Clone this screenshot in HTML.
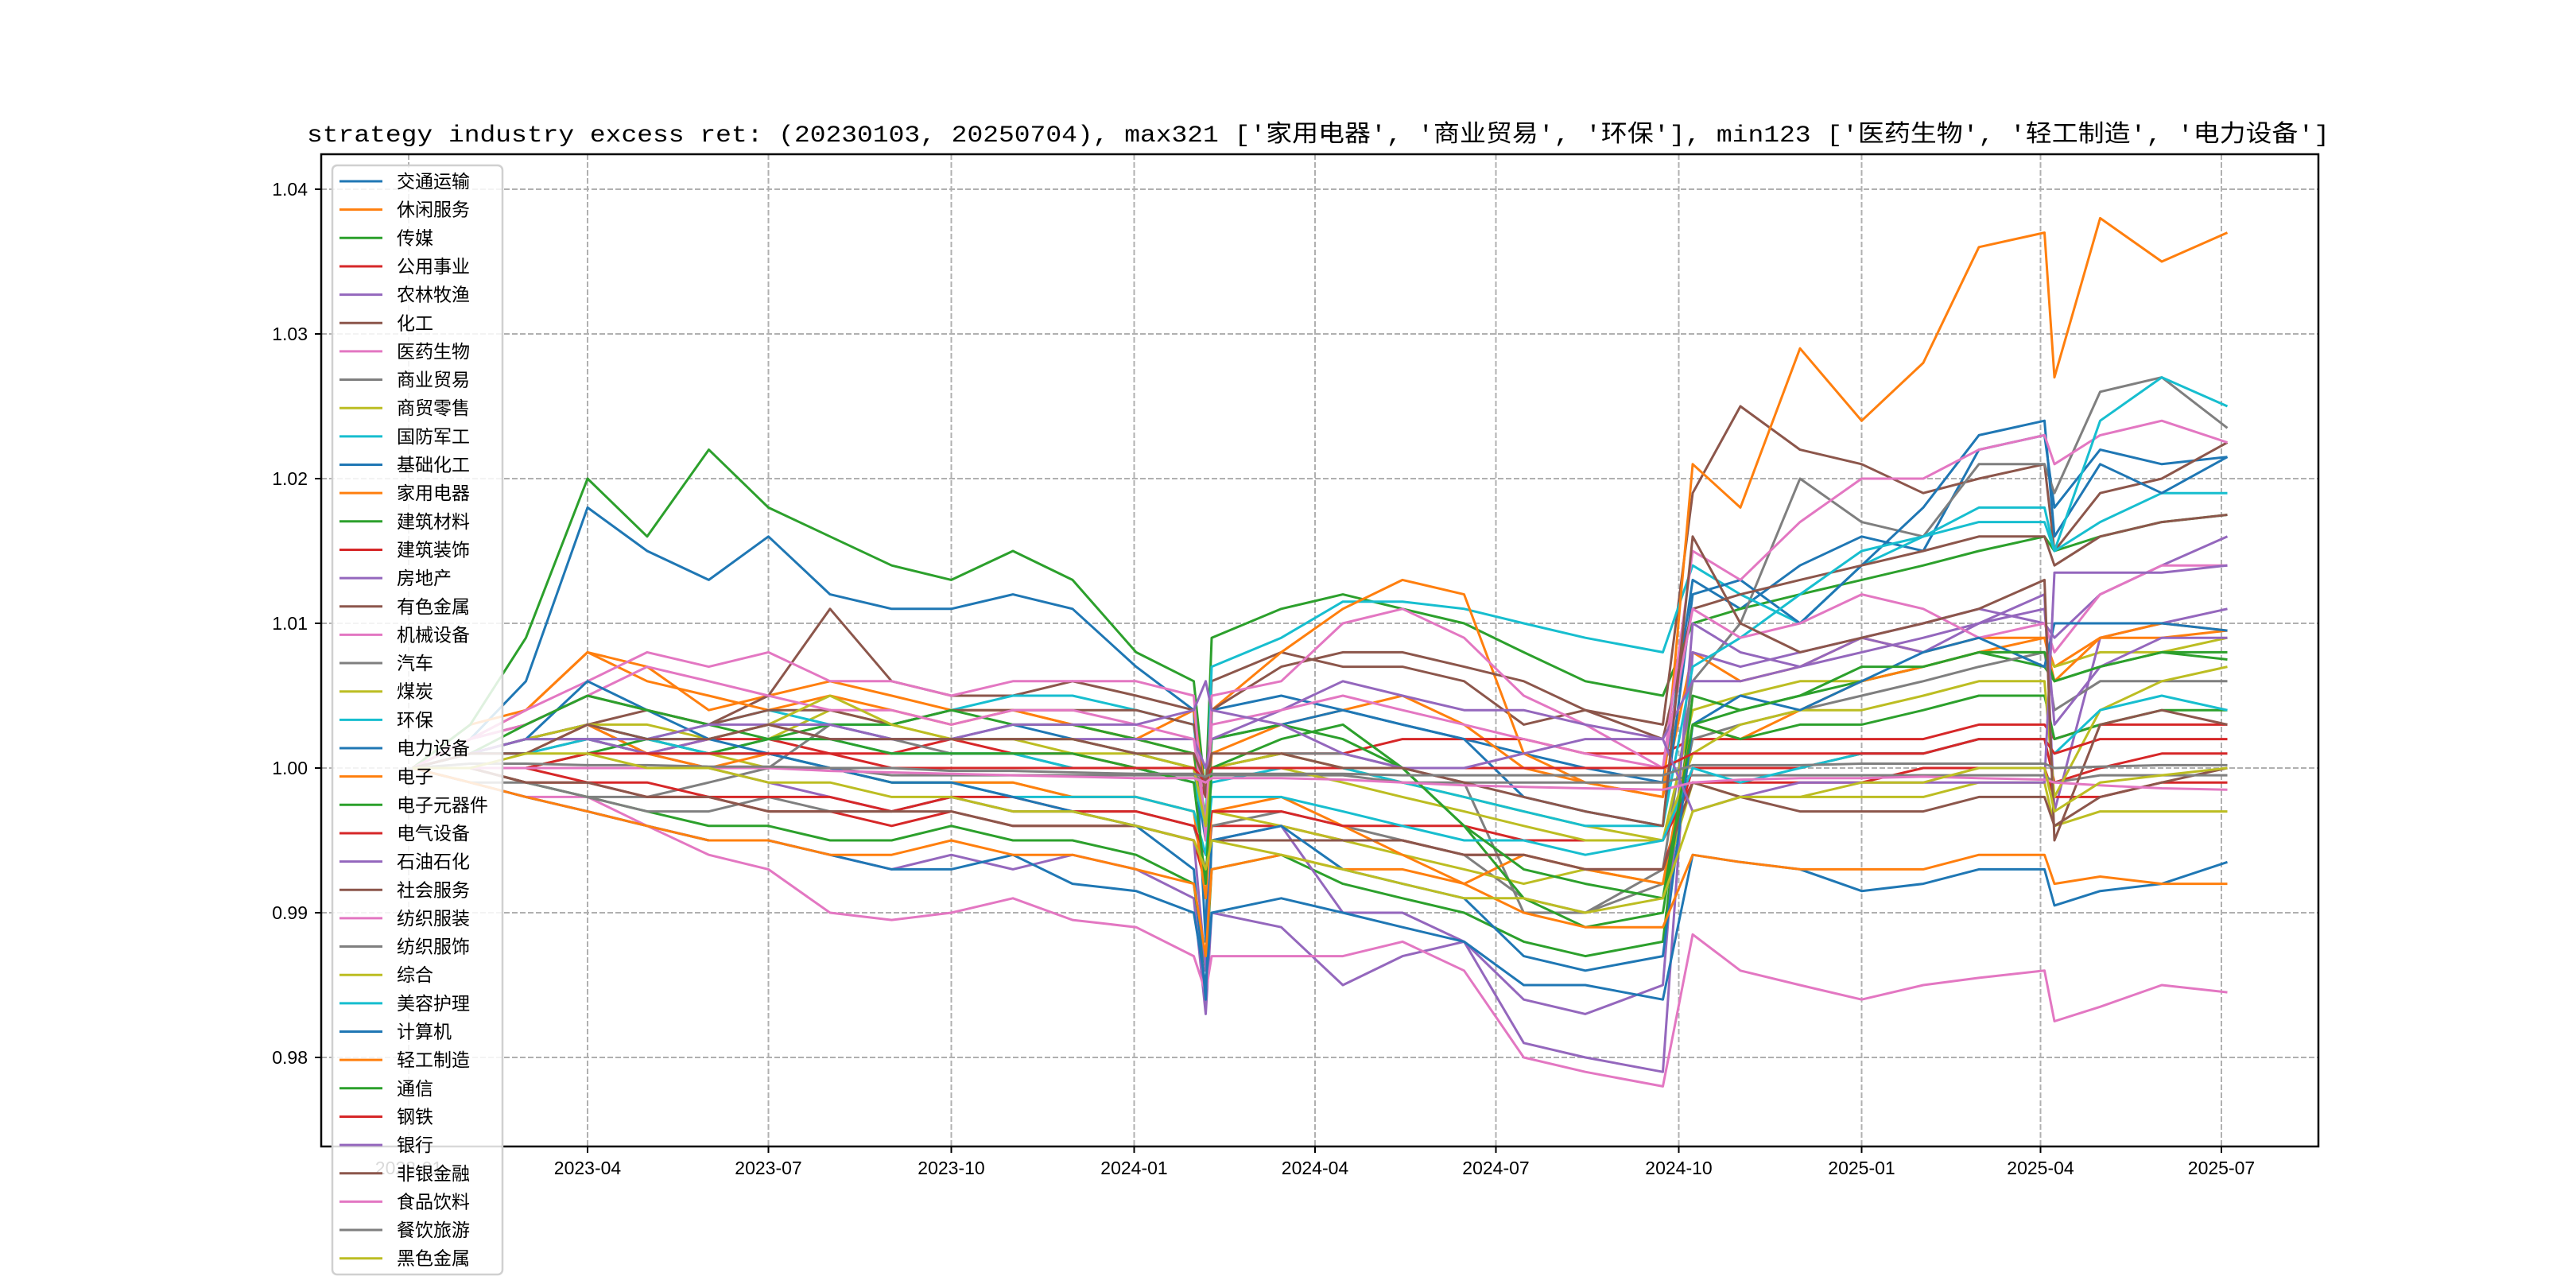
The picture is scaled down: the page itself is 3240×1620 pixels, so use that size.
<!DOCTYPE html>
<html><head><meta charset="utf-8"><style>
html,body{margin:0;padding:0;background:#fff;}
svg{display:block;}
text{font-family:"Liberation Sans","Noto Sans CJK SC",sans-serif;}
</style></head><body>
<svg id="chart" width="3240" height="1620" viewBox="0 0 3240 1620" xmlns="http://www.w3.org/2000/svg">
<rect width="3240" height="1620" fill="#fff"/>
<text x="386" y="178" font-size="30" textLength="2544" lengthAdjust="spacingAndGlyphs" style="font-family:'Liberation Mono','Noto Sans CJK SC',monospace">strategy industry excess ret: (20230103, 20250704), max321 ['家用电器', '商业贸易', '环保'], min123 ['医药生物', '轻工制造', '电力设备']</text>
<g id="grid"></g>
<g id="series"></g>
<rect x="404" y="194" width="2512" height="1248" fill="none" stroke="#000" stroke-width="2.5"/>
<g id="axes"></g>
<g id="legend"></g>
</svg>
<script>
const dates = ['2023-01-03','2023-02-01','2023-03-01','2023-04-01','2023-05-01','2023-06-01','2023-07-01','2023-08-01','2023-09-01','2023-10-01','2023-11-01','2023-12-01','2024-01-02','2024-01-31','2024-02-06','2024-02-09','2024-03-15','2024-04-15','2024-05-15','2024-06-15','2024-07-15','2024-08-15','2024-09-23','2024-10-08','2024-11-01','2024-12-01','2025-01-01','2025-02-01','2025-03-01','2025-04-03','2025-04-08','2025-05-01','2025-06-01','2025-07-04'];
const names = ['交通运输','休闲服务','传媒','公用事业','农林牧渔','化工','医药生物','商业贸易','商贸零售','国防军工','基础化工','家用电器','建筑材料','建筑装饰','房地产','有色金属','机械设备','汽车','煤炭','环保','电力设备','电子','电子元器件','电气设备','石油石化','社会服务','纺织服装','纺织服饰','综合','美容护理','计算机','轻工制造','通信','钢铁','银行','非银金融','食品饮料','餐饮旅游','黑色金属'];
const yTicks = [0.98,0.99,1.00,1.01,1.02,1.03,1.04];
const yTickLabels = ['0.98','0.99','1.00','1.01','1.02','1.03','1.04'];
const xTicks = ['2023-01-01','2023-04-01','2023-07-01','2023-10-01','2024-01-01','2024-04-01','2024-07-01','2024-10-01','2025-01-01','2025-04-01','2025-07-01'];
const xTickLabels = ['2023-01','2023-04','2023-07','2023-10','2024-01','2024-04','2024-07','2024-10','2025-01','2025-04','2025-07'];
const s0 = [1.000,1.002,1.006,1.018,1.015,1.013,1.016,1.012,1.011,1.011,1.012,1.011,1.007,1.004,0.988,1.004,1.005,1.004,1.003,1.002,1.001,1.000,0.999,1.013,1.011,1.014,1.016,1.015,1.022,1.023,1.018,1.022,1.021,1.0215];
const s1 = [1.000,1.003,1.004,1.008,1.007,1.004,1.005,1.006,1.005,1.004,1.004,1.003,1.002,1.001,0.995,1.001,1.003,1.004,1.005,1.003,1.000,0.999,0.998,1.008,1.006,1.007,1.009,1.008,1.009,1.009,1.007,1.009,1.009,1.0095];
const s2 = [1.000,1.003,1.009,1.020,1.016,1.022,1.018,1.016,1.014,1.013,1.015,1.013,1.008,1.006,0.998,1.009,1.011,1.012,1.011,1.010,1.008,1.006,1.005,1.010,1.011,1.012,1.013,1.014,1.015,1.016,1.015,1.016,1.017,1.0175];
const s3 = [1.000,1.001,1.002,1.002,1.001,1.002,1.002,1.001,1.001,1.002,1.001,1.001,1.000,1.000,0.998,1.000,1.001,1.001,1.002,1.002,1.002,1.001,1.001,1.002,1.002,1.002,1.002,1.002,1.003,1.003,1.002,1.003,1.003,1.003];
const s4 = [1.000,0.999,0.998,0.997,0.996,0.995,0.995,0.994,0.993,0.994,0.993,0.994,0.993,0.991,0.983,0.990,0.989,0.985,0.987,0.988,0.981,0.980,0.979,1.008,1.007,1.008,1.009,1.010,1.011,1.010,1.009,1.012,1.014,1.016];
const s5 = [1.000,1.002,1.003,1.005,1.004,1.003,1.005,1.011,1.006,1.005,1.005,1.006,1.005,1.004,0.998,1.006,1.008,1.007,1.007,1.006,1.003,1.004,1.003,1.019,1.025,1.022,1.021,1.019,1.020,1.021,1.015,1.019,1.020,1.0225];
const s6 = [1.000,0.999,0.998,0.998,0.996,0.994,0.993,0.990,0.9895,0.990,0.991,0.9895,0.989,0.987,0.9845,0.987,0.987,0.987,0.988,0.986,0.980,0.979,0.978,0.9885,0.986,0.985,0.984,0.985,0.9855,0.986,0.9825,0.9835,0.985,0.9845];
const s7 = [1.000,1.000,0.999,0.998,0.998,0.999,1.000,1.003,1.002,1.001,1.001,1.000,1.000,0.999,0.996,1.000,1.001,1.001,1.000,0.999,0.990,0.990,0.993,1.006,1.010,1.020,1.017,1.016,1.021,1.021,1.019,1.026,1.027,1.0235];
const s8 = [1.000,1.001,1.002,1.003,1.002,1.001,1.002,1.004,1.003,1.002,1.002,1.001,1.001,1.000,0.997,1.000,1.001,1.000,0.999,0.998,0.997,0.996,0.995,1.004,1.005,1.006,1.006,1.007,1.008,1.008,1.007,1.008,1.008,1.009];
const s9 = [1.000,1.001,1.002,1.003,1.002,1.003,1.004,1.003,1.003,1.004,1.005,1.005,1.004,1.003,0.996,1.007,1.009,1.0115,1.0115,1.011,1.010,1.009,1.008,1.014,1.012,1.010,1.014,1.016,1.018,1.018,1.015,1.017,1.019,1.019];
const s10 = [1.000,1.001,1.002,1.003,1.002,1.002,1.003,1.003,1.002,1.002,1.003,1.002,1.001,1.000,0.995,1.002,1.003,1.004,1.003,1.002,0.998,0.997,0.996,1.012,1.013,1.010,1.014,1.018,1.023,1.024,1.016,1.021,1.019,1.0215];
const s11 = [1.000,1.002,1.004,1.008,1.006,1.005,1.004,1.005,1.004,1.003,1.004,1.003,1.002,1.004,0.998,1.004,1.008,1.011,1.013,1.012,1.001,0.999,0.998,1.021,1.018,1.029,1.024,1.028,1.036,1.037,1.027,1.038,1.035,1.037];
const s12 = [1.000,1.000,0.999,0.998,0.997,0.996,0.996,0.995,0.995,0.996,0.995,0.995,0.994,0.992,0.986,0.993,0.994,0.992,0.991,0.990,0.988,0.987,0.988,1.005,1.004,1.005,1.006,1.007,1.008,1.007,1.006,1.007,1.008,1.008];
const s13 = [1.000,1.000,0.999,0.999,0.998,0.998,0.997,0.997,0.996,0.997,0.996,0.996,0.996,0.995,0.992,0.996,0.996,0.995,0.995,0.994,0.994,0.993,0.993,1.000,1.000,1.000,1.001,1.001,1.002,1.002,0.999,1.000,1.001,1.001];
const s14 = [1.000,1.001,1.002,1.003,1.001,1.000,0.999,0.998,0.997,0.998,0.997,0.997,0.996,0.995,0.986,0.995,0.996,0.990,0.990,0.988,0.984,0.983,0.985,1.010,1.008,1.007,1.009,1.008,1.010,1.012,0.997,1.009,1.010,1.011];
const s15 = [1.000,1.001,1.002,1.003,1.004,1.003,1.004,1.004,1.003,1.004,1.004,1.004,1.004,1.003,0.998,1.004,1.007,1.008,1.008,1.007,1.006,1.004,1.002,1.011,1.012,1.013,1.014,1.015,1.016,1.016,1.014,1.016,1.017,1.0175];
const s16 = [1.000,1.002,1.004,1.006,1.008,1.007,1.008,1.006,1.006,1.005,1.006,1.006,1.006,1.005,0.995,1.005,1.006,1.010,1.011,1.009,1.005,1.003,1.000,1.015,1.013,1.017,1.020,1.020,1.022,1.023,1.021,1.023,1.024,1.0225];
const s17 = [1.000,0.999,0.999,0.998,0.997,0.997,0.998,0.997,0.997,0.998,0.997,0.997,0.997,0.996,0.993,0.996,0.997,0.996,0.995,0.994,0.991,0.990,0.992,1.002,1.003,1.004,1.005,1.006,1.007,1.008,1.004,1.006,1.006,1.006];
const s18 = [1.000,1.001,1.001,1.002,1.001,1.001,1.000,1.000,0.999,0.999,0.999,0.998,0.998,0.997,0.994,0.997,0.996,0.995,0.994,0.993,0.992,0.993,0.992,0.999,0.998,0.998,0.998,0.998,0.999,0.999,0.996,0.997,0.997,0.997];
const s19 = [1.000,1.001,1.002,1.002,1.001,1.001,1.002,1.002,1.001,1.001,1.001,1.000,1.000,0.999,0.996,0.999,1.000,1.000,0.999,0.998,0.997,0.996,0.996,1.007,1.009,1.012,1.015,1.016,1.017,1.017,1.015,1.024,1.027,1.025];
const s20 = [1.000,0.999,0.998,0.997,0.996,0.995,0.995,0.994,0.993,0.993,0.994,0.992,0.9915,0.990,0.985,0.990,0.991,0.990,0.989,0.988,0.985,0.985,0.984,0.994,0.9935,0.993,0.9915,0.992,0.993,0.993,0.9905,0.9915,0.992,0.9935];
const s21 = [1.000,1.001,1.001,1.003,1.001,1.000,1.001,1.000,0.999,0.999,0.999,0.998,0.998,0.997,0.991,0.997,0.998,0.996,0.994,0.992,0.994,0.993,0.992,1.003,1.002,1.004,1.006,1.007,1.008,1.009,1.006,1.009,1.010,1.0095];
const s22 = [1.000,1.000,1.000,1.001,1.002,1.001,1.002,1.003,1.003,1.004,1.003,1.003,1.002,1.001,0.996,1.002,1.003,1.002,1.000,0.996,0.991,0.989,0.990,1.003,1.002,1.003,1.003,1.004,1.005,1.005,1.002,1.003,1.004,1.004];
const s23 = [1.000,1.000,1.000,0.999,0.999,0.998,0.998,0.998,0.997,0.998,0.998,0.997,0.997,0.996,0.994,0.997,0.997,0.996,0.996,0.996,0.995,0.995,0.995,0.999,0.999,0.999,0.999,1.000,1.000,1.000,0.998,0.998,0.999,0.999];
const s24 = [1.000,1.001,1.001,1.002,1.001,1.002,1.003,1.002,1.002,1.002,1.002,1.002,1.002,1.002,1.000,1.002,1.004,1.006,1.005,1.004,1.004,1.003,1.002,1.006,1.006,1.007,1.008,1.009,1.010,1.011,1.003,1.007,1.009,1.009];
const s25 = [1.000,1.000,0.999,0.999,0.998,0.998,0.997,0.997,0.997,0.997,0.996,0.996,0.996,0.995,0.993,0.995,0.995,0.995,0.995,0.994,0.994,0.993,0.993,0.999,0.998,0.997,0.997,0.997,0.998,0.998,0.996,0.998,0.999,1.000];
const s26 = [1.000,1.002,1.003,1.005,1.007,1.006,1.005,1.004,1.004,1.003,1.004,1.004,1.003,1.002,0.996,1.003,1.004,1.005,1.004,1.003,1.002,1.001,1.000,1.011,1.009,1.010,1.012,1.011,1.009,1.010,1.008,1.012,1.014,1.014];
const s27 = [1.000,1.000,1.000,1.000,1.000,1.000,1.000,1.000,0.9995,0.9995,0.9995,0.9995,0.9995,0.9995,0.999,0.9995,0.9995,0.9995,0.999,0.999,0.999,0.999,0.999,0.9995,0.9995,0.9995,0.9995,0.9995,0.9995,0.9995,0.999,0.9995,0.9995,0.9995];
const s28 = [1.000,1.001,1.002,1.003,1.003,1.002,1.003,1.005,1.003,1.002,1.002,1.002,1.001,1.000,0.996,1.000,1.000,0.999,0.998,0.997,0.996,0.995,0.995,1.001,1.003,1.004,1.004,1.005,1.006,1.006,0.998,1.004,1.006,1.007];
const s29 = [1.000,1.001,1.001,1.002,1.002,1.001,1.001,1.000,0.999,0.999,0.998,0.998,0.998,0.997,0.994,0.998,0.998,0.997,0.996,0.995,0.995,0.994,0.995,1.000,0.999,1.000,1.001,1.001,1.002,1.002,1.001,1.004,1.005,1.004];
const s30 = [1.000,1.001,1.002,1.006,1.004,1.002,1.001,1.000,0.999,0.999,0.998,0.997,0.996,0.993,0.984,0.995,0.996,0.993,0.992,0.991,0.987,0.986,0.987,1.003,1.005,1.004,1.006,1.008,1.009,1.007,1.010,1.010,1.010,1.0095];
const s31 = [1.000,0.999,0.998,0.997,0.996,0.995,0.995,0.994,0.994,0.995,0.994,0.994,0.993,0.992,0.987,0.993,0.994,0.993,0.993,0.992,0.990,0.989,0.989,0.994,0.9935,0.993,0.993,0.993,0.994,0.994,0.992,0.9925,0.992,0.992];
const s32 = [1.000,1.001,1.003,1.005,1.004,1.003,1.002,1.002,1.001,1.001,1.001,1.001,1.000,0.999,0.992,1.000,1.002,1.003,1.000,0.996,0.993,0.992,0.991,1.003,1.004,1.005,1.007,1.007,1.008,1.008,1.006,1.007,1.008,1.0075];
const s33 = [1.000,1.000,1.000,1.001,1.001,1.001,1.001,1.001,1.000,1.000,1.000,1.000,1.000,1.000,0.999,1.000,1.000,1.000,1.000,1.000,1.000,1.000,1.000,1.001,1.001,1.001,1.001,1.001,1.002,1.002,1.001,1.002,1.002,1.002];
const s34 = [1.000,1.001,1.002,1.002,1.002,1.003,1.003,1.003,1.002,1.002,1.003,1.003,1.003,1.004,1.006,1.004,1.003,1.001,1.000,1.000,1.001,1.002,1.002,0.997,0.998,0.999,0.999,0.999,0.999,0.999,1.0135,1.0135,1.0135,1.014];
const s35 = [1.000,1.001,1.001,1.003,1.002,1.002,1.003,1.002,1.002,1.002,1.002,1.002,1.001,1.001,0.999,1.001,1.001,1.000,1.000,0.999,0.998,0.997,0.996,1.016,1.010,1.008,1.009,1.010,1.011,1.013,0.995,1.003,1.004,1.003];
const s36 = [1.000,1.000,1.000,1.000,1.000,1.000,1.000,0.9998,0.9997,0.9996,0.9995,0.9994,0.9993,0.9993,0.999,0.9993,0.9993,0.9992,0.999,0.9988,0.9987,0.9986,0.9985,0.999,0.9992,0.9993,0.9993,0.9994,0.9993,0.9992,0.999,0.9988,0.9986,0.9985];
const s37 = [1.000,1.0003,1.0003,1.0002,1.0002,1.0001,1.0001,1.000,1.000,0.9998,0.9998,0.9997,0.9996,0.9996,0.9994,0.9996,0.9996,0.9996,0.9995,0.9995,0.9995,0.9995,0.9995,1.0002,1.0002,1.0002,1.0003,1.0003,1.0003,1.0003,1.000,1.0001,1.0002,1.0002];
const s38 = [1.000,1.000,1.001,1.001,1.000,1.000,0.999,0.999,0.998,0.998,0.997,0.997,0.996,0.995,0.993,0.995,0.994,0.993,0.992,0.991,0.991,0.990,0.991,0.997,0.998,0.998,0.999,0.999,1.000,1.000,0.997,0.999,0.9995,1.000];
const seriesValues = [s0,s1,s2,s3,s4,s5,s6,s7,s8,s9,s10,s11,s12,s13,s14,s15,s16,s17,s18,s19,s20,s21,s22,s23,s24,s25,s26,s27,s28,s29,s30,s31,s32,s33,s34,s35,s36,s37,s38];

const NS = 'http://www.w3.org/2000/svg';
const palette = ['#1f77b4','#ff7f0e','#2ca02c','#d62728','#9467bd','#8c564b','#e377c2','#7f7f7f','#bcbd22','#17becf'];
const PL = 404, PR = 2916, PT = 194, PB = 1442;
const T0 = Date.UTC(2023,0,1);
function dayOf(s){const p=s.split('-');return (Date.UTC(+p[0],+p[1]-1,+p[2])-T0)/86400000;}
function xScale(s){return 514 + dayOf(s)*2.5;}
function yScale(v){return 966 - (v-1.0)*18200;}
function mk(tag, attrs, parent){const e=document.createElementNS(NS,tag);for(const k in attrs)e.setAttribute(k,attrs[k]);parent.appendChild(e);return e;}

const grid = document.getElementById('grid');
const axes = document.getElementById('axes');
yTicks.forEach((v,i)=>{
  const y = yScale(v);
  const g = mk('line',{x1:PL,x2:PR,y1:y,y2:y,stroke:'#b0b0b0','stroke-width':2,'stroke-dasharray':'7,3'},grid);
  
  
  const t = mk('line',{x1:PL-8,x2:PL,y1:y,y2:y,stroke:'#000','stroke-width':2},axes);
  
  
  const l = mk('text',{x:387,y:y+8,'font-size':23,'text-anchor':'end'},axes);
  l.textContent = yTickLabels[i];
  
  
});
xTicks.forEach((d,i)=>{
  const x = xScale(d);
  const g = mk('line',{x1:x,x2:x,y1:PT,y2:PB,stroke:'#b0b0b0','stroke-width':2,'stroke-dasharray':'7,3'},grid);
  
  
  const t = mk('line',{x1:x,x2:x,y1:PB,y2:PB+8,stroke:'#000','stroke-width':2},axes);
  
  
  const l = mk('text',{x:x,y:PB+35,'font-size':23,'text-anchor':'middle'},axes);
  l.textContent = xTickLabels[i];
  
  
});

const sg = document.getElementById('series');
seriesValues.forEach((vals,i)=>{
  const pts = vals.map((v,j)=>xScale(dates[j]).toFixed(1)+','+yScale(v).toFixed(1)).join(' ');
  const p = mk('polyline',{points:pts,fill:'none',stroke:palette[i%10],'stroke-width':3,'stroke-linejoin':'round'},sg);
  
  
});

const lg = document.getElementById('legend');
const box = mk('rect',{x:418,y:208,width:214,height:1395,rx:6,fill:'#fff','fill-opacity':0.85,stroke:'#d0d0d0','stroke-width':2.5},lg);


names.forEach((n,i)=>{
  const y = 228 + i*35.65;
  const ln = mk('line',{x1:427,x2:481,y1:y,y2:y,stroke:palette[i%10],'stroke-width':3},lg);
  
  
  const t = mk('text',{x:499,y:y+8,'font-size':23},lg);
  t.textContent = n;
  
  
});
</script>
</body></html>
